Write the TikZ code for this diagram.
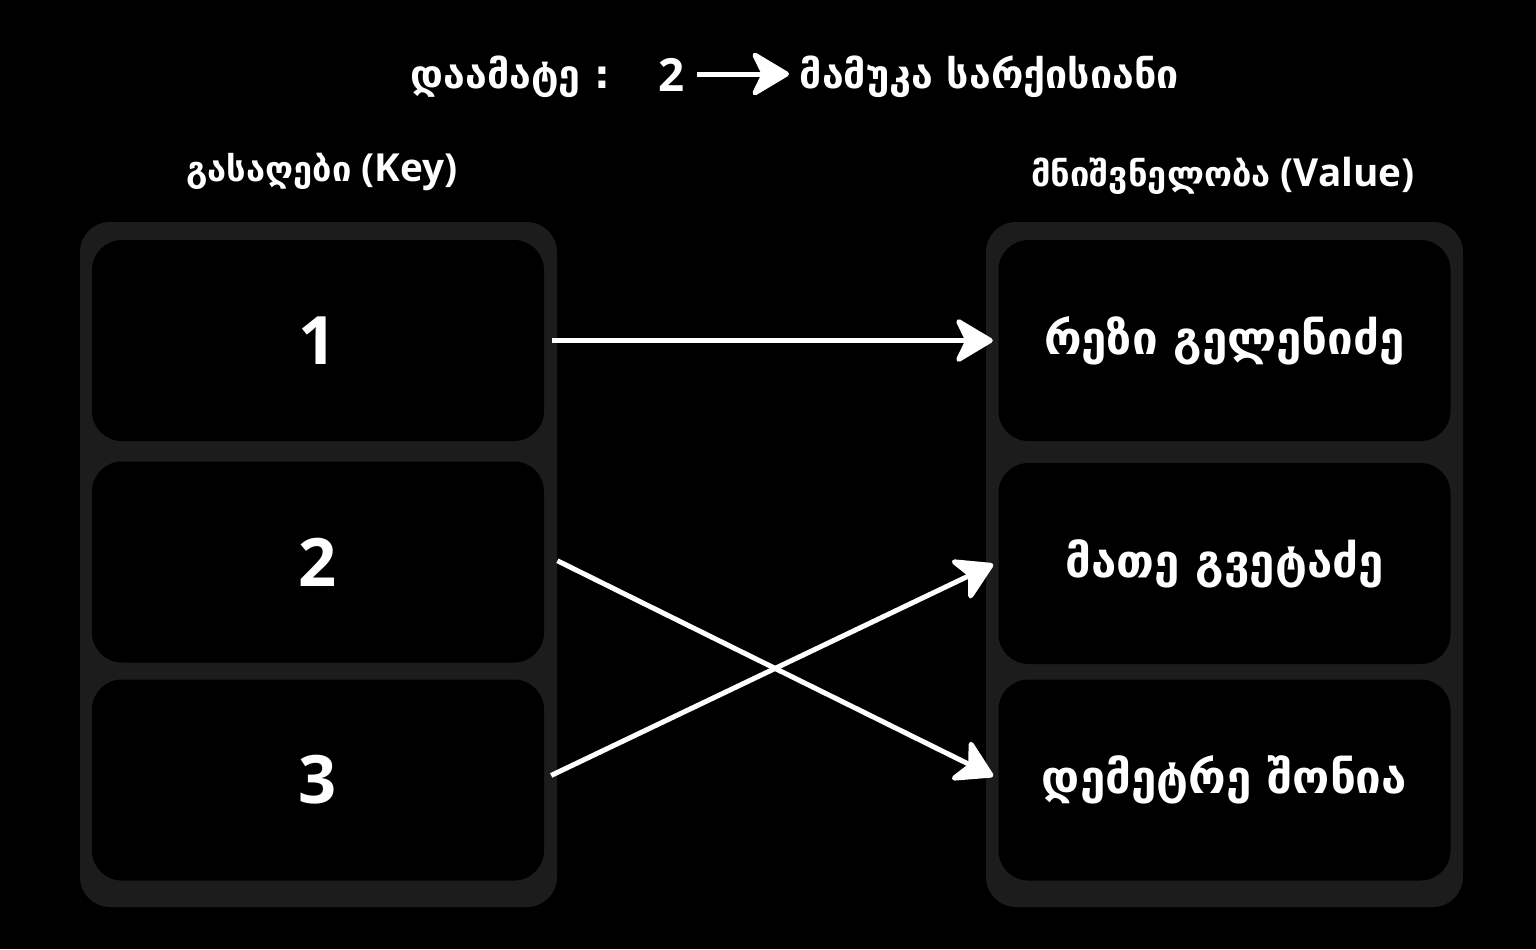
\documentclass[tikz,border=0pt]{standalone}
\usepackage{fontspec}
\setmainfont{Open Sans}
\newfontfamily\geo{DejaVu Sans}
\usetikzlibrary{arrows.meta}
\definecolor{panel}{HTML}{1C1C1C}
\begin{document}
\begin{tikzpicture}[line width = 1pt,
                    cell/.style = {rectangle, rounded corners = 0.3cm, fill = black, minimum width = 4.52cm, minimum height = 2.01cm, text = white, inner sep = 0pt},
                    keytxt/.style = {font = \fontsize{19}{22}\selectfont\bfseries},
                    valtxt/.style = {font = \geo\fontsize{13}{16}\selectfont\bfseries},
                    head/.style = {text = white, inner sep = 0pt, font = \fontsize{11}{14}\selectfont\bfseries},
                    link/.style = {draw = white, line width = 0.5mm, -{Stealth[length = 0.42cm, width = 0.5cm, inset = 0.12cm, round]}}]
      \fill [black] (0, 0) rectangle (15.36, -9.49);
      \useasboundingbox (0, 0) rectangle (15.36, -9.49);
      % containers
      \fill [panel, rounded corners = 0.3cm] (0.80, -2.22) rectangle (5.57, -9.07);
      \fill [panel, rounded corners = 0.3cm] (9.86, -2.22) rectangle (14.63, -9.07);
      % title
      \node [head, font = \geo\fontsize{11.2}{14}\selectfont\bfseries, anchor = east] (add) at (6.12, -0.77) {დაამატე :};
      \node [head, font = \fontsize{13}{16}\selectfont\bfseries] (two) at (6.72, -0.75) {2};
      \node [head, font = \geo\fontsize{11.2}{14}\selectfont\bfseries, anchor = west] (name) at (7.98, -0.77) {მამუკა სარქისიანი};
      \coordinate (arrs) at (6.97, -0.74);
      \coordinate (arre) at (7.89, -0.74);
      \draw [link] (arrs) -- (arre);
      % headers
      \node [head] (keyhead) at (3.22, -1.72) {{\geo\fontsize{9.8}{14}\selectfont გასაღები} (Key)};
      \node [head] (valhead) at (12.23, -1.76) {{\geo\fontsize{9.8}{14}\selectfont მნიშვნელობა} (Value)};
      % keys
      \node [cell, keytxt] (k1) at (3.18, -3.405) {1};
      \node [cell, keytxt] (k2) at (3.18, -5.62) {2};
      \node [cell, keytxt] (k3) at (3.18, -7.80) {3};
      % values
      \node [cell, valtxt] (v1) at (12.245, -3.405) {რეზი გელენიძე};
      \node [cell, valtxt] (v2) at (12.245, -5.635) {მათე გვეტაძე};
      \node [cell, valtxt] (v3) at (12.245, -7.80) {დემეტრე შონია};
      \draw [link, shorten <= 0.06cm, shorten >= 0.04cm] (k1.east) -- (v1.west);
      \draw [link, shorten <= 0.13cm, shorten >= 0.04cm] ([yshift = 0.7mm]k2.east) -- ([yshift = 0.2mm]v3.west);
      \draw [link, shorten <= 0.06cm, shorten >= 0.04cm] ([yshift = 0.2mm]k3.east) -- ([yshift = 0.1mm]v2.west);
    \end{tikzpicture}
\end{document}
